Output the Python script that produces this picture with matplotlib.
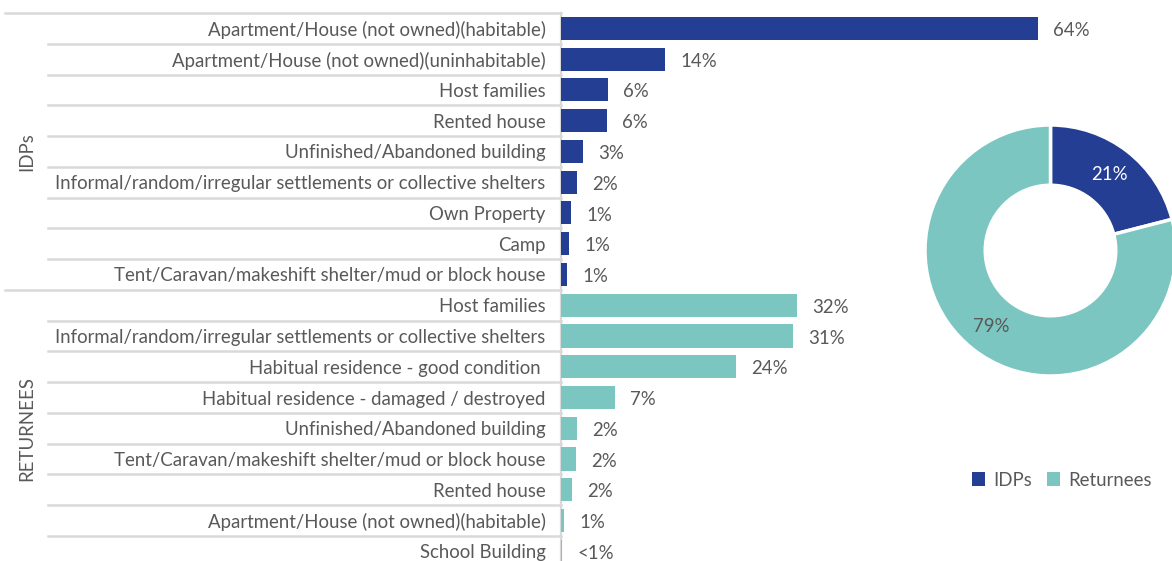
import matplotlib
matplotlib.use("Agg")
import matplotlib.pyplot as plt
from matplotlib import font_manager
import numpy as np

# ---------------- data ----------------
idp_cats = ["Apartment/House (not owned)(habitable)",
            "Apartment/House (not owned)(uninhabitable)",
            "Host families",
            "Rented house",
            "Unfinished/Abandoned building",
            "Informal/random/irregular settlements or collective shelters",
            "Own Property",
            "Camp",
            "Tent/Caravan/makeshift shelter/mud or block house"]
idp_vals = [64, 14, 6.3, 6.2, 3.0, 2.1, 1.3, 1.1, 0.8]
idp_labels = ["64%", "14%", "6%", "6%", "3%", "2%", "1%", "1%", "1%"]

ret_cats = ["Host families",
            "Informal/random/irregular settlements or collective shelters",
            "Habitual residence - good condition ",
            "Habitual residence - damaged / destroyed",
            "Unfinished/Abandoned building",
            "Tent/Caravan/makeshift shelter/mud or block house",
            "Rented house",
            "Apartment/House (not owned)(habitable)",
            "School Building"]
ret_vals = [31.7, 31.1, 23.5, 7.2, 2.1, 2.0, 1.5, 0.4, 0.15]
ret_labels = ["32%", "31%", "24%", "7%", "2%", "2%", "2%", "1%", "<1%"]

groups = ["IDPs", "RETURNEES"]
donut_labels = ["IDPs", "Returnees"]
donut_vals = [21, 79]
donut_text = ["21%", "79%"]

# ---------------- style ----------------
C_IDP = "#233e93"
C_RET = "#7bc6c0"
TXT = "#595959"
GRID = "#d9d9d9"
names = {f.name for f in font_manager.fontManager.ttflist}
FAM = "Lato" if "Lato" in names else "DejaVu Sans"
plt.rcParams["font.family"] = [FAM, "DejaVu Sans"]
FS = 13.4
WT = "normal"

W, H = 1172, 561
fig = plt.figure(figsize=(W / 100, H / 100), dpi=100)

# bar axes (pixel geometry)
ax_left, ax_right = 561, 1172
top_px, row_h = 13, 30.76
n = len(idp_cats) + len(ret_cats)
bottom_px = top_px + row_h * n
ax = fig.add_axes([ax_left / W, 1 - bottom_px / H,
                   (ax_right - ax_left) / W, (bottom_px - top_px) / H])
px_per_unit = 7.45
ax.set_xlim(0, (ax_right - ax_left) / px_per_unit)
ax.set_ylim(n - 0.5, -0.5)

cats = idp_cats + ret_cats
vals = idp_vals + ret_vals
labs = idp_labels + ret_labels
cols = [C_IDP] * len(idp_cats) + [C_RET] * len(ret_cats)
ypos = list(range(n))
ax.barh(ypos, vals, height=0.75, color=cols, zorder=3)

for y, v, t in zip(ypos, vals, labs):
    ax.annotate(t, xy=(v, y), xytext=(11, -1.5), textcoords="offset points",
                ha="left", va="center", fontsize=FS, color=TXT,
                fontweight=WT, annotation_clip=False)

ax.set_yticks(ypos)
ax.set_yticklabels(cats, fontsize=FS, color=TXT, fontweight=WT)
ax.tick_params(axis="y", length=0, pad=11)
ax.set_xticks([])
for s in ["top", "right", "bottom"]:
    ax.spines[s].set_visible(False)
ax.spines["left"].set_color(GRID)
ax.spines["left"].set_linewidth(1.6)

# row separator lines in the label area
ax_w = ax_right - ax_left
for i in range(n):
    yb = i - 0.5
    start = 5 if i in (0, len(idp_cats)) else 48
    ax.axhline(yb, xmin=(start - ax_left) / ax_w, xmax=0, color=GRID,
               lw=1.8, clip_on=False, zorder=1)

# group labels
gx = -(ax_left - 27) / px_per_unit
ax.text(gx, 4.0, groups[0], rotation=90, ha="center", va="center",
        fontsize=FS, color=TXT, fontweight=WT, clip_on=False)
ax.text(gx, 13.0, groups[1], rotation=90, ha="center", va="center",
        fontsize=FS, color=TXT, fontweight=WT, clip_on=False)

# donut
R = 125.5
cx, cy = 1050.5, 250.5
dax = fig.add_axes([(cx - R) / W, 1 - (cy + R) / H, 2 * R / W, 2 * R / H])
wedges, _ = dax.pie(donut_vals, colors=[C_IDP, C_RET], startangle=90,
                    counterclock=False, radius=1,
                    wedgeprops=dict(width=0.48, edgecolor="white", linewidth=2.5))
ang = 90.0
for v, t, c in zip(donut_vals, donut_text, ["white", TXT]):
    mid = np.deg2rad(ang - v * 3.6 / 2)
    ang -= v * 3.6
    dax.text(0.77 * np.cos(mid), 0.77 * np.sin(mid), t, ha="center",
             va="center", fontsize=FS, color=c, fontweight=WT)
dax.set_xlim(-1, 1)
dax.set_ylim(-1, 1)
dax.set_aspect("equal")
dax.axis("off")

leg = fig.legend(wedges, donut_labels, loc="center left",
                 bbox_to_anchor=(955 / W, 1 - 480 / H), ncol=2, frameon=False,
                 handlelength=0.7, handleheight=0.7,
                 handletextpad=0.45, columnspacing=0.8, labelcolor=TXT,
                 prop=dict(family=[FAM, "DejaVu Sans"], weight=WT, size=FS))
for h in leg.legend_handles:
    h.set_edgecolor("none")

fig.savefig("out.png", dpi=100)
